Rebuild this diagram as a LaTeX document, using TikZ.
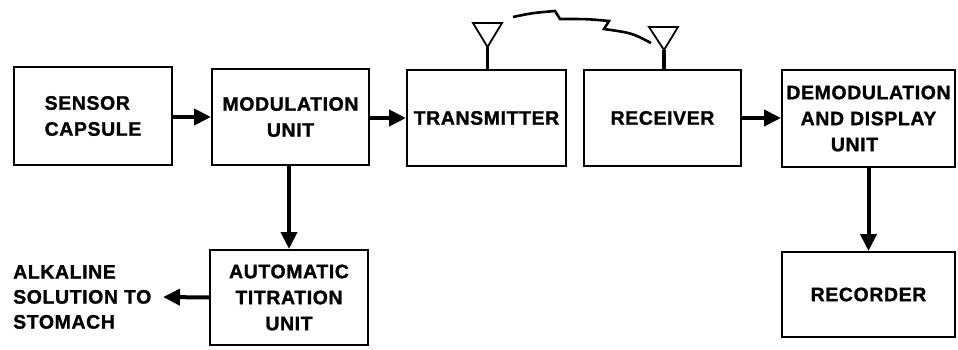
\documentclass[tikz,border=0pt]{standalone}
\usepackage{fontspec}
\setmainfont{Liberation Sans}
\newfontfamily\heavyfont{Liberation Sans}[FakeBold=1.2,LetterSpace=3]
\usetikzlibrary{arrows.meta}
\begin{document}
\begin{tikzpicture}[x=1pt,y=-1pt,
  blockbox/.style={draw,line width=2pt,inner sep=0pt,align=center,
    font=\heavyfont\bfseries\fontsize{19.5}{26}\selectfont},
  label/.style={inner sep=0pt,align=left,
    font=\heavyfont\bfseries\fontsize{19.5}{25}\selectfont},
  flow/.style={line width=4pt,-{Triangle[length=17pt,width=16pt]}},
  mast/.style={line width=3.2pt},
  dish/.style={line width=1.8pt,line join=miter},
  radio/.style={line width=2.6pt,line join=miter}]
\useasboundingbox (0,0) rectangle (958,350);

% processing chain
\node[blockbox,minimum width=158pt,minimum height=97pt,align=left] (sensor) at (93,116)
  {SENSOR\\CAPSULE};
\node[blockbox,minimum width=157pt,minimum height=96pt] (mod) at (290.5,117)
  {MODULATION\\UNIT};
\node[blockbox,minimum width=159pt,minimum height=96pt] (tx) at (486.5,118)
  {TRANSMITTER};
\node[blockbox,minimum width=157pt,minimum height=96pt] (rx) at (662.5,118)
  {RECEIVER};
\node[blockbox,minimum width=173pt,minimum height=97pt] (demod) at (868.5,118.5)
  {DEMODULATION\\AND DISPLAY\\UNIT\hspace*{28pt}};
\node[blockbox,minimum width=173pt,minimum height=85pt] (rec) at (868.5,294.5)
  {RECORDER};
\node[blockbox,minimum width=158pt,minimum height=95pt] (tit) at (289,297.5)
  {AUTOMATIC\\TITRATION\\UNIT};
\node[label,anchor=west] (alk) at (13,297)
  {ALKALINE\\SOLUTION TO\\STOMACH};
\coordinate (alkend) at (163,297);

% connectors
\draw[flow] ([yshift=-1pt]sensor.east) -- ([yshift=-1pt]sensor.east -| mod.west);
\draw[flow] ([yshift=-1pt]mod.east) -- ([yshift=-1pt]mod.east -| tx.west);
\draw[flow] (rx.east) -- (rx.east -| demod.west);
\draw[flow] ([xshift=-1.5pt]mod.south) -- ([xshift=-1.5pt]mod.south |- tit.north);
\draw[flow] (demod.south) -- (demod.south |- rec.north);
\draw[flow] (tit.west) -- (alkend);

% antennas
\coordinate (txtip) at (487.5,47);
\coordinate (rxtip) at (664,50);
\draw[mast] (txtip) -- (txtip |- tx.north);
\draw[mast] (rxtip) -- (rxtip |- rx.north);
\draw[dish] (473,23) -- (502,23) -- (txtip) -- cycle;
\draw[dish] (649,27) -- (678,27) -- (rxtip) -- cycle;

% radio link with two zigzag steps
\draw[radio] (513,17) .. controls (532,13) .. (555,11) -- (560,19)
  .. controls (588,19) .. (609,21) -- (604,29) .. controls (632,33) .. (651,43);
\end{tikzpicture}
\end{document}
